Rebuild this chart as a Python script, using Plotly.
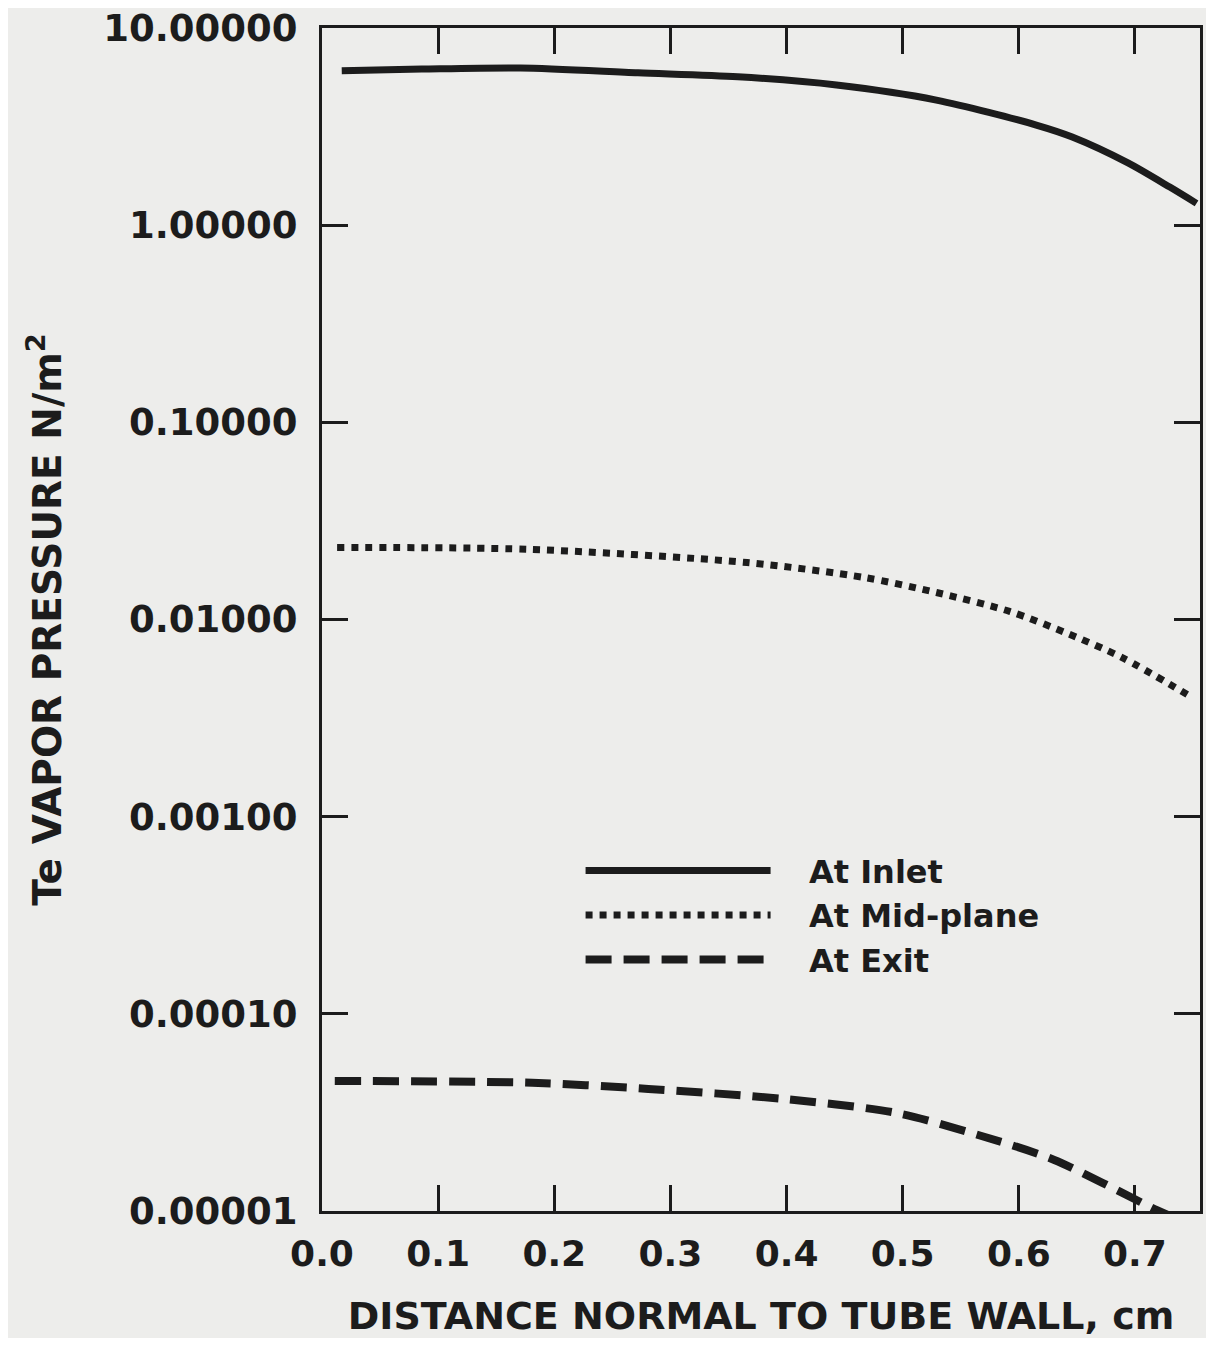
import plotly.graph_objects as go

# Distance normal to tube wall (cm) and Te vapor pressure (N/m^2)
x_inlet = [0.017, 0.086, 0.171, 0.272, 0.358, 0.443, 0.529, 0.615, 0.646, 0.694, 0.730, 0.753]
y_inlet = [6.07, 6.19, 6.27, 5.93, 5.66, 5.14, 4.31, 3.22, 2.80, 2.07, 1.56, 1.29]

x_mid = [0.013, 0.177, 0.366, 0.467, 0.529, 0.592, 0.640, 0.689, 0.745]
y_mid = [0.0232, 0.0227, 0.01945, 0.01633, 0.01371, 0.01099, 0.00859, 0.00641, 0.00416]

x_exit = [0.011, 0.181, 0.281, 0.396, 0.495, 0.565, 0.630, 0.719, 0.735]
y_exit = [4.57e-5, 4.47e-5, 4.16e-5, 3.71e-5, 3.14e-5, 2.43e-5, 1.82e-5, 1.01e-5, 0.92e-5]

x_ticks = [0.0, 0.1, 0.2, 0.3, 0.4, 0.5, 0.6, 0.7]
x_ticklabels = ["0.0", "0.1", "0.2", "0.3", "0.4", "0.5", "0.6", "0.7"]
y_ticks = [1e-5, 1e-4, 1e-3, 1e-2, 1e-1, 1, 10]
y_ticklabels = ["0.00001", "0.00010", "0.00100", "0.01000", "0.10000", "1.00000", "10.00000"]

series_names = ["At Inlet", "At Mid-plane", "At Exit"]

INK = "#1c1c1c"
BG = "#ededeb"
FONT = "DejaVu Sans"
GAP = "\u00a0\u00a0\u00a0"

fig = go.Figure()
fig.add_trace(go.Scatter(x=x_inlet, y=y_inlet, mode="lines", name=GAP + series_names[0],
                         line=dict(color=INK, width=7, shape="spline", smoothing=0.8)))
fig.add_trace(go.Scatter(x=x_mid, y=y_mid, mode="lines", name=GAP + series_names[1],
                         line=dict(color=INK, width=7, dash="7px,7px", shape="spline", smoothing=0.8)))
fig.add_trace(go.Scatter(x=x_exit, y=y_exit, mode="lines", name=GAP + series_names[2],
                         line=dict(color=INK, width=8, dash="26px,12px", shape="spline", smoothing=0.8)))

axis_common = dict(showline=True, linecolor=INK, linewidth=3, mirror="ticks",
                   ticks="inside", ticklen=26, tickwidth=3, tickcolor=INK,
                   showgrid=False, zeroline=False, ticklabeloverflow="allow",
                   automargin=False)

fig.update_xaxes(range=[0, 0.756], tickvals=x_ticks, ticktext=x_ticklabels,
                 tickfont=dict(family=FONT, size=36, color=INK, weight="bold"),
                 ticklabelstandoff=9,
                 title=dict(text="\u00a0DISTANCE NORMAL TO TUBE WALL, cm",
                            font=dict(family=FONT, size=38, color=INK, weight="bold"),
                            standoff=38),
                 **axis_common)
fig.update_yaxes(type="log", range=[-5, 1], tickvals=y_ticks, ticktext=y_ticklabels,
                 tickfont=dict(family=FONT, size=37, color=INK, weight="bold"),
                 ticklabelstandoff=14,
                 title=dict(text="Te VAPOR PRESSURE N/m<sup>2</sup>",
                            font=dict(family=FONT, size=39, color=INK, weight="bold"),
                            standoff=30),
                 **axis_common)

fig.update_layout(
    width=1198, height=1330,
    margin=dict(l=314, r=6, t=20, b=127),
    paper_bgcolor=BG, plot_bgcolor=BG,
    showlegend=True,
    legend=dict(x=0.2945, y=0.311, xanchor="left", yanchor="top",
                bgcolor="rgba(0,0,0,0)", itemwidth=185,
                font=dict(family=FONT, size=32, color=INK, weight="bold"),
                tracegroupgap=0),
)

fig.write_html("out.html")
